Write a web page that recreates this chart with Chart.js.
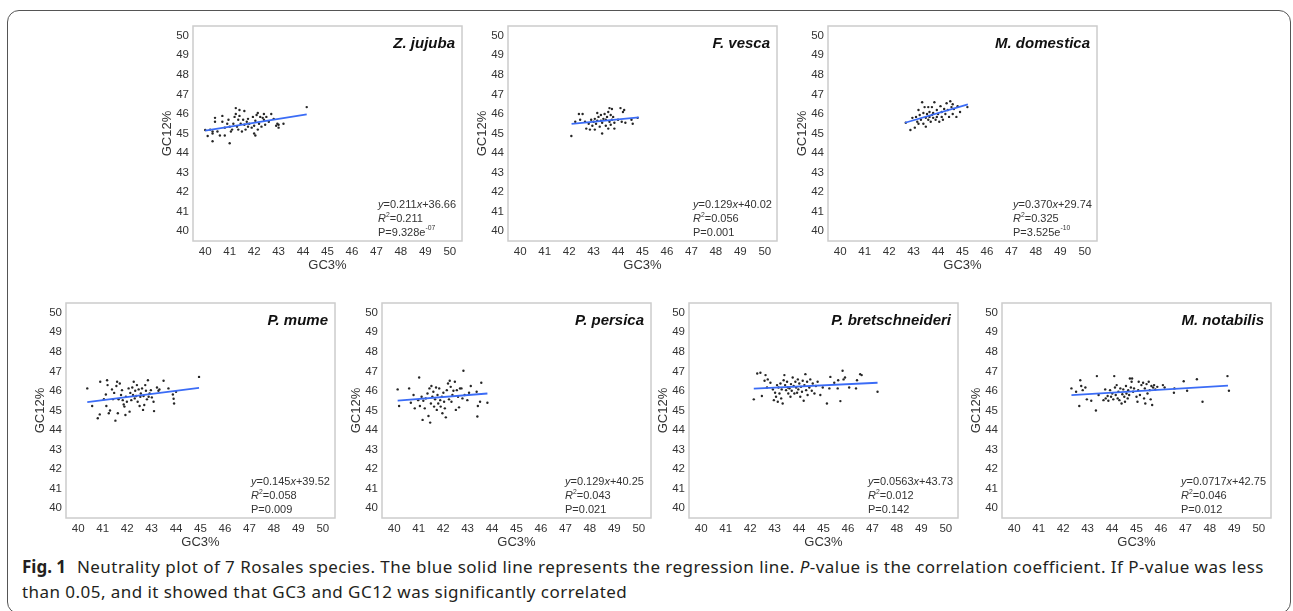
<!DOCTYPE html>
<html>
<head>
<meta charset="utf-8">
<script src="https://cdn.jsdelivr.net/npm/chart.js@4.4.1/dist/chart.umd.min.js"></script>
<style>
    html, body { margin: 0; padding: 0; background: #fff; }
    body { width: 1293px; height: 611px; position: relative; overflow: hidden; }
    #frame {
        position: absolute; left: 7px; top: 10px; width: 1284px; height: 604px;
        border: 1px solid #555; border-radius: 12px; box-sizing: border-box;
    }
    canvas.panel { position: absolute; }
    #caption {
        position: absolute; left: 22px; top: 554px; width: 1262px;
        font-family: "Noto Sans", sans-serif; font-size: 17px; letter-spacing: 0.45px;
        line-height: 25px; color: #231f20;
    }
    #caption b { font-weight: 700; margin-right: 6px; letter-spacing: 0; }
</style>
</head>
<body>
<div id="frame"></div>
<div id="caption"><b>Fig. 1</b> Neutrality plot of 7 Rosales species. The blue solid line represents the regression line. <i>P</i>-value is the correlation coefficient. If P-value was less than 0.05, and it showed that GC3 and GC12 was significantly correlated</div>

<script>
/* ---------------------------------------------------------------- */
/*  DONNÉES                                                         */
/* ---------------------------------------------------------------- */

const X_TICKS = [40, 41, 42, 43, 44, 45, 46, 47, 48, 49, 50];
const Y_TICKS = [40, 41, 42, 43, 44, 45, 46, 47, 48, 49, 50];
const X_TITLE = "GC3%";
const Y_TITLE = "GC12%";

const SPECIES = ["Z. jujuba", "F. vesca", "M. domestica", "P. mume", "P. persica", "P. bretschneideri", "M. notabilis"];

// _texte_ = italique, ^texte^ = exposant
const EQUATIONS = ["_y_=0.211_x_+36.66", "_y_=0.129_x_+40.02", "_y_=0.370_x_+29.74", "_y_=0.145_x_+39.52",
                   "_y_=0.129_x_+40.25", "_y_=0.0563_x_+43.73", "_y_=0.0717_x_+42.75"];
const R_SQUARED = ["0.211", "0.056", "0.325", "0.058", "0.043", "0.012", "0.046"];
const P_VALUES = ["9.328e^-07^", "0.001", "3.525e^-10^", "0.009", "0.021", "0.142", "0.012"];

const jujubaPts = [[40.0,45.18],[40.1,44.87],[40.2,45.2],[40.3,45.0],[40.3,45.1],[40.3,44.6],[40.4,45.8],[40.4,45.6],
    [40.5,45.1],[40.6,44.9],[40.7,45.9],[40.7,45.6],[40.8,45.3],[40.8,44.9],[40.9,45.5],[40.95,45.7],[41.0,45.35],
    [41.0,44.5],[41.05,45.1],[41.1,45.2],[41.15,45.5],[41.2,45.85],[41.25,46.3],[41.25,46.0],[41.3,45.35],[41.35,45.2],
    [41.35,45.7],[41.4,45.9],[41.4,46.2],[41.45,45.5],[41.5,45.1],[41.55,45.7],[41.6,46.15],[41.6,45.45],[41.65,45.2],
    [41.7,45.6],[41.75,45.35],[41.75,45.75],[41.8,45.5],[41.9,45.3],[41.95,45.85],[42.0,45.0],[42.0,45.4],[42.05,45.65],
    [42.05,44.9],[42.1,45.95],[42.15,46.05],[42.15,45.2],[42.2,45.5],[42.25,45.85],[42.3,45.35],[42.35,45.8],[42.4,45.7],
    [42.4,46.0],[42.45,45.45],[42.5,45.85],[42.6,45.6],[42.7,46.0],[42.8,45.75],[42.9,45.4],[42.95,45.5],[43.0,45.3],
    [43.0,45.45],[43.2,45.5],[44.15,46.35]];
const vescaPts = [[42.09,44.87],[42.25,45.6],[42.4,46.0],[42.55,46.0],[42.45,45.7],[42.65,45.6],[42.7,45.25],[42.8,45.5],
    [42.85,45.2],[42.9,45.7],[42.95,45.4],[43.0,45.6],[43.05,45.2],[43.05,45.75],[43.1,45.5],[43.15,45.65],[43.15,46.05],
    [43.2,45.85],[43.25,45.35],[43.3,45.65],[43.3,45.95],[43.35,45.55],[43.35,45.0],[43.4,45.75],[43.45,46.0],[43.5,45.4],
    [43.5,45.7],[43.55,45.85],[43.6,46.1],[43.6,45.25],[43.65,45.6],[43.65,46.3],[43.7,45.95],[43.7,45.45],[43.75,46.25],
    [43.75,45.7],[43.8,45.85],[43.85,45.55],[43.85,45.25],[44.0,45.7],[44.1,46.3],[44.15,45.6],[44.2,46.1],[44.25,46.2],
    [44.3,45.55],[44.55,45.7],[44.6,45.5],[44.8,45.8]];
const domesticaPts = [[42.68,45.55],[42.87,45.18],[42.95,45.8],[43.05,45.3],[43.1,45.85],[43.15,45.6],[43.2,46.2],
    [43.2,45.5],[43.25,45.95],[43.3,45.7],[43.35,46.6],[43.4,45.5],[43.4,46.05],[43.45,46.35],[43.5,45.8],[43.5,45.35],
    [43.55,46.0],[43.6,45.7],[43.6,46.35],[43.65,45.85],[43.65,46.1],[43.7,45.6],[43.75,46.35],[43.75,45.95],[43.8,45.8],
    [43.8,46.05],[43.85,46.6],[43.9,45.7],[43.95,46.2],[43.95,45.85],[44.0,46.0],[44.05,45.6],[44.1,46.4],[44.15,45.85],
    [44.15,46.1],[44.2,45.7],[44.25,46.25],[44.3,46.0],[44.35,46.55],[44.4,46.2],[44.45,45.85],[44.5,46.65],[44.55,46.35],
    [44.6,46.0],[44.6,46.5],[44.65,46.25],[44.75,45.85],[44.8,46.4],[44.9,46.1],[45.2,46.35]];
const mumePts = [[40.37,46.13],[40.57,45.23],[40.8,44.6],[40.88,44.8],[40.9,46.47],[41.05,45.58],[41.13,45.82],
    [41.18,46.55],[41.2,46.3],[41.15,45.23],[41.25,44.86],[41.3,45.0],[41.38,46.08],[41.42,45.58],[41.47,45.9],
    [41.52,44.48],[41.56,46.25],[41.59,46.47],[41.62,44.86],[41.65,45.57],[41.7,46.38],[41.75,45.79],[41.79,46.04],
    [41.82,45.53],[41.86,45.31],[41.89,45.2],[41.93,44.77],[41.95,45.7],[41.99,45.45],[42.06,46.13],[42.1,44.94],
    [42.13,45.9],[42.17,45.53],[42.21,46.18],[42.24,45.79],[42.27,46.47],[42.31,45.62],[42.33,46.01],[42.37,45.74],
    [42.4,46.3],[42.43,45.45],[42.47,46.08],[42.51,45.23],[42.54,45.7],[42.56,45.87],[42.61,46.13],[42.65,45.03],
    [42.67,45.74],[42.7,45.28],[42.74,46.3],[42.77,46.01],[42.81,45.57],[42.85,46.55],[42.88,45.7],[42.92,45.87],
    [42.97,46.04],[43.01,45.67],[43.08,45.45],[43.1,44.97],[43.22,46.18],[43.28,46.01],[43.32,46.08],[43.49,46.52],
    [43.69,46.13],[43.87,45.82],[43.9,45.6],[43.92,45.36],[44.0,45.96],[44.94,46.72]];
const persicaPts = [[40.14,46.08],[40.2,45.23],[40.61,46.13],[40.68,45.4],[40.79,45.79],[40.84,45.11],[40.98,45.53],
    [41.02,46.69],[41.05,45.23],[41.12,45.7],[41.16,44.52],[41.19,45.5],[41.25,45.11],[41.29,45.62],[41.36,45.87],
    [41.4,44.72],[41.44,46.13],[41.47,44.38],[41.5,45.36],[41.52,46.25],[41.56,45.7],[41.6,45.96],[41.63,45.2],
    [41.67,45.57],[41.71,46.18],[41.74,45.03],[41.77,45.79],[41.8,45.36],[41.84,46.13],[41.88,45.53],[41.9,45.2],
    [41.95,45.7],[41.97,44.86],[42.01,45.91],[42.04,45.45],[42.07,45.11],[42.11,44.65],[42.15,46.04],[42.2,46.38],
    [42.24,45.57],[42.27,46.52],[42.31,46.21],[42.34,45.45],[42.38,45.79],[42.42,46.01],[42.48,46.47],[42.52,45.03],
    [42.56,46.04],[42.61,45.7],[42.65,45.16],[42.69,46.13],[42.75,46.13],[42.79,45.62],[42.83,47.03],[42.88,45.79],
    [42.99,45.53],[43.06,45.91],[43.13,46.25],[43.37,45.96],[43.4,44.69],[43.42,45.23],[43.51,45.45],[43.56,46.42],
    [43.81,45.4]];
const bretschPts = [[42.15,45.57],[42.29,46.89],[42.42,46.93],[42.48,45.74],[42.59,46.52],[42.63,46.81],[42.69,46.18],
    [42.72,46.59],[42.83,46.42],[42.93,46.08],[42.97,45.53],[43.02,45.91],[43.06,45.7],[43.1,46.3],[43.13,45.45],
    [43.16,46.18],[43.2,45.87],[43.24,46.38],[43.27,45.62],[43.29,46.08],[43.33,45.36],[43.37,46.55],[43.4,46.81],
    [43.43,46.3],[43.47,46.04],[43.51,46.47],[43.54,46.18],[43.56,45.87],[43.61,46.13],[43.65,45.7],[43.67,46.35],
    [43.7,46.01],[43.74,46.69],[43.78,46.25],[43.81,45.87],[43.85,46.47],[43.88,46.18],[43.92,45.91],[43.95,46.59],
    [43.97,46.08],[44.01,46.38],[44.05,45.7],[44.08,46.21],[44.12,45.96],[44.15,46.52],[44.19,45.5],[44.22,46.3],
    [44.26,46.86],[44.29,46.04],[44.33,46.47],[44.35,45.79],[44.42,46.18],[44.46,46.59],[44.52,46.01],[44.56,46.38],
    [44.63,45.87],[44.69,46.25],[44.76,46.47],[44.87,45.79],[44.97,46.18],[45.14,45.36],[45.24,46.13],[45.28,46.72],
    [45.44,46.42],[45.58,46.13],[45.6,46.55],[45.69,45.48],[45.78,47.03],[45.82,46.59],[45.88,46.69],[46.05,46.18],
    [46.33,46.13],[46.37,46.55],[46.5,46.86],[46.56,46.81],[47.21,45.96]];
const notabilisPts = [[42.34,46.13],[42.53,45.96],[42.66,45.23],[42.7,46.55],[42.74,46.25],[42.8,46.04],[42.91,46.18],
    [42.97,45.57],[43.15,45.5],[43.34,45.0],[43.38,46.76],[43.45,45.79],[43.65,45.53],[43.72,46.08],[43.74,45.62],
    [43.82,45.74],[43.85,45.5],[43.92,46.04],[43.96,45.7],[44.01,45.87],[44.05,45.57],[44.09,46.76],[44.12,46.18],
    [44.15,45.79],[44.19,46.3],[44.23,45.62],[44.26,45.96],[44.3,45.53],[44.34,46.13],[44.39,45.36],[44.42,45.83],
    [44.46,46.08],[44.5,45.7],[44.53,45.45],[44.57,46.25],[44.59,45.87],[44.64,45.62],[44.66,46.04],[44.7,45.79],
    [44.73,46.64],[44.77,46.18],[44.8,46.47],[44.82,46.64],[44.86,45.96],[44.9,46.13],[45.0,45.7],[45.04,45.45],
    [45.07,46.04],[45.09,46.47],[45.14,45.79],[45.2,46.3],[45.27,46.42],[45.31,45.62],[45.34,46.13],[45.36,45.36],
    [45.41,46.35],[45.45,45.87],[45.5,46.47],[45.54,46.04],[45.58,45.57],[45.61,46.25],[45.64,45.28],[45.68,46.18],
    [45.72,46.3],[45.77,46.08],[45.85,46.21],[46.08,46.3],[46.15,46.18],[46.53,45.91],[46.55,46.13],[46.93,46.5],
    [47.07,46.01],[47.47,46.6],[47.7,45.45],[48.72,46.76],[48.78,46.01]];

// extrémités des droites de régression
const jujubaLine = [[40.0, 45.15], [44.15, 45.98]];
const vescaLine = [[42.1, 45.49], [44.85, 45.83]];
const domesticaLine = [[42.65, 45.55], [45.22, 46.49]];
const mumeLine = [[40.37, 45.43], [44.94, 46.16]];
const persicaLine = [[40.14, 45.5], [43.81, 45.87]];
const bretschLine = [[42.15, 46.12], [47.21, 46.42]];
const notabilisLine = [[42.34, 45.79], [48.74, 46.27]];

const POINTS = [jujubaPts, vescaPts, domesticaPts, mumePts, persicaPts, bretschPts, notabilisPts];
const LINES = [jujubaLine, vescaLine, domesticaLine, mumeLine, persicaLine, bretschLine, notabilisLine];

/* ---------------------------------------------------------------- */
/*  MISE EN PAGE                                                    */
/* ---------------------------------------------------------------- */

const BOX_W = 269, BOX_H = 215;
const Y_AXIS_W = 37, X_AXIS_H = 36, PAD_TOP = 4, PAD_RIGHT = 4;
const PANEL_POS = [
    { left: 193, top: 26, stats: 84 },
    { left: 508, top: 26, stats: 84 },
    { left: 828, top: 26, stats: 84 },
    { left: 66, top: 303, stats: 84 },
    { left: 382, top: 303, stats: 86 },
    { left: 689, top: 303, stats: 90 },
    { left: 1002, top: 303, stats: 90 }
];
const FONT = '"Liberation Sans", Arial, sans-serif';
const TEXT_COLOR = "#333";

/* ---------------------------------------------------------------- */
/*  TEXTE RICHE (italique / exposant)                                */
/* ---------------------------------------------------------------- */

function drawRich(ctx, str, x, y, size) {
    const parts = str.split(/(_[^_]+_|\^[^^]+\^)/).filter(p => p.length);
    for (const p of parts) {
        let txt = p, font = `${size}px ${FONT}`, dy = 0;
        if (p[0] === "_") { txt = p.slice(1, -1); font = `italic ${size}px ${FONT}`; }
        else if (p[0] === "^") { txt = p.slice(1, -1); font = `${size * 0.62}px ${FONT}`; dy = -size * 0.38; }
        ctx.font = font;
        ctx.fillText(txt, x, y + dy);
        x += ctx.measureText(txt).width;
    }
}

const panelDecor = {
    id: "panelDecor",
    beforeDatasetsDraw(chart, args, opts) {
        const { ctx, chartArea: a } = chart;
        ctx.save();
        ctx.strokeStyle = "#cccccc";
        ctx.lineWidth = 1.5;
        ctx.strokeRect(a.left, a.top, a.right - a.left, a.bottom - a.top);
        ctx.restore();
    },
    afterDraw(chart, args, opts) {
        const { ctx, chartArea: a } = chart;
        ctx.save();
        ctx.fillStyle = "#111";
        ctx.textAlign = "right";
        ctx.textBaseline = "middle";
        ctx.font = `italic bold 15px ${FONT}`;
        ctx.fillText(opts.name, a.right - 7, a.top + 18);

        ctx.fillStyle = TEXT_COLOR;
        ctx.textAlign = "left";
        const sx = a.right - opts.stats;
        drawRich(ctx, opts.eq, sx, a.top + 179, 11);
        drawRich(ctx, "_R_^2^=" + opts.r2, sx, a.top + 193, 11);
        drawRich(ctx, "P=" + opts.p, sx, a.top + 206.5, 11);
        ctx.restore();
    }
};

/* ---------------------------------------------------------------- */
/*  GRAPHIQUES                                                      */
/* ---------------------------------------------------------------- */

function createPanel(i) {
    const pos = PANEL_POS[i];
    const canvas = document.createElement("canvas");
    canvas.className = "panel";
    canvas.width = Y_AXIS_W + BOX_W + PAD_RIGHT;
    canvas.height = PAD_TOP + BOX_H + X_AXIS_H;
    canvas.style.left = (pos.left - Y_AXIS_W) + "px";
    canvas.style.top = (pos.top - PAD_TOP) + "px";
    document.body.appendChild(canvas);

    const tickFont = { family: FONT, size: 11.5 };
    const titleFont = { family: FONT, size: 13 };

    new Chart(canvas, {
        type: "scatter",
        data: {
            datasets: [
                {
                    type: "line",
                    data: LINES[i].map(([x, y]) => ({ x, y })),
                    borderColor: "#3b6cf6",
                    borderWidth: 1.8,
                    pointRadius: 0,
                    fill: false
                },
                {
                    data: POINTS[i].map(([x, y]) => ({ x, y })),
                    pointRadius: 1.2,
                    pointBackgroundColor: "#262626",
                    pointBorderWidth: 0
                }
            ]
        },
        options: {
            responsive: false,
            animation: false,
            events: [],
            layout: { padding: { top: PAD_TOP, right: PAD_RIGHT, left: 0, bottom: 0 } },
            plugins: {
                legend: { display: false },
                tooltip: { enabled: false },
                panelDecor: {
                    name: SPECIES[i], eq: EQUATIONS[i], r2: R_SQUARED[i], p: P_VALUES[i], stats: pos.stats
                }
            },
            scales: {
                x: {
                    type: "linear", min: 39.5, max: 50.5,
                    grid: { display: false, drawTicks: false },
                    border: { display: false },
                    afterBuildTicks: s => { s.ticks = X_TICKS.map(v => ({ value: v })); },
                    afterFit: s => { s.height = X_AXIS_H; s.paddingLeft = 0; s.paddingRight = 0; },
                    ticks: { font: tickFont, color: TEXT_COLOR, padding: 4, maxRotation: 0, autoSkip: false },
                    title: { display: true, text: X_TITLE, font: titleFont, color: TEXT_COLOR, padding: { top: 0, bottom: 4 } }
                },
                y: {
                    type: "linear", min: 39.5, max: 50.5,
                    grid: { display: false, drawTicks: false },
                    border: { display: false },
                    afterBuildTicks: s => { s.ticks = Y_TICKS.map(v => ({ value: v })); },
                    afterFit: s => { s.width = Y_AXIS_W; s.paddingTop = 0; s.paddingBottom = 0; },
                    ticks: { font: tickFont, color: TEXT_COLOR, padding: 4, autoSkip: false },
                    title: { display: true, text: Y_TITLE, font: titleFont, color: TEXT_COLOR, padding: { top: 4, bottom: 0 } }
                }
            }
        },
        plugins: [panelDecor]
    });
}

document.addEventListener("DOMContentLoaded", () => {
    SPECIES.forEach((_, i) => createPanel(i));
});
</script>
</body>
</html>
